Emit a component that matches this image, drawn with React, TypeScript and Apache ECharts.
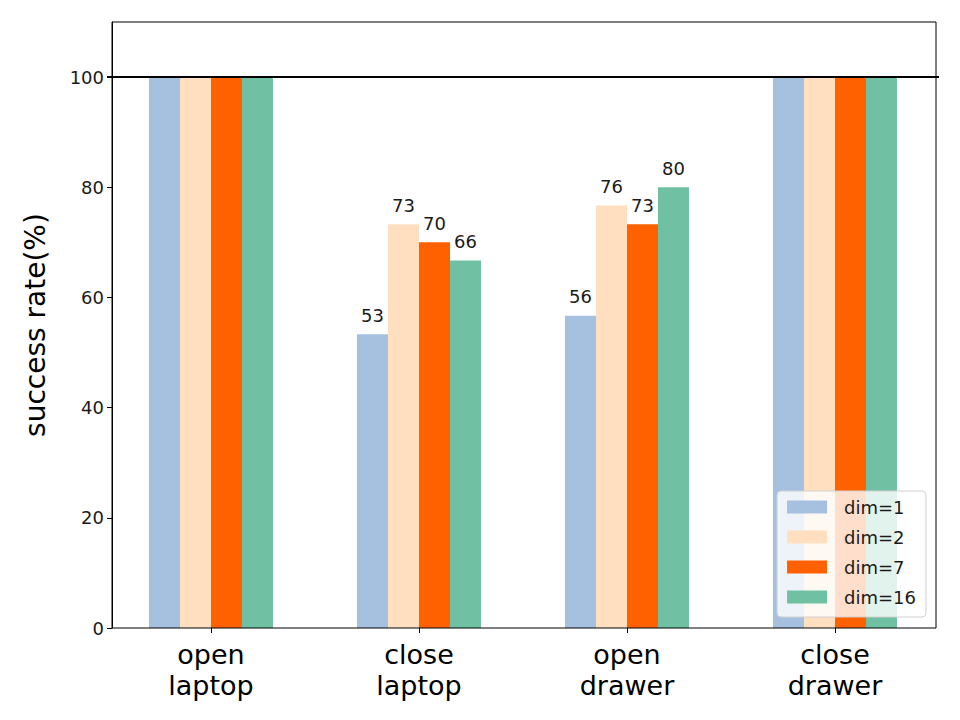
import React, { useEffect, useRef } from "react";
import * as echarts from "echarts";

const categories = ["open\nlaptop", "close\nlaptop", "open\ndrawer", "close\ndrawer"];
const seriesNames = ["dim=1", "dim=2", "dim=7", "dim=16"];
const dim1 = [100, 53.3, 56.7, 100];
const dim2 = [100, 73.3, 76.7, 100];
const dim7 = [100, 70.0, 73.3, 100];
const dim16 = [100, 66.7, 80.0, 100];
const colors = ["#a6c1e0", "#ffdfc0", "#ff6000", "#70c1a3"];
const yTicks = [0, 20, 40, 60, 80, 100];

const FONT = "DejaVu Sans";

export default function App() {
  const ref = useRef<HTMLDivElement>(null);
  useEffect(() => {
    if (!ref.current) return;
    const chart = echarts.init(ref.current, null, { renderer: "svg" });
    const data = [dim1, dim2, dim7, dim16];
    const series: any[] = data.map((d, i) => ({
      name: seriesNames[i],
      type: "bar",
      data: d,
      barWidth: 31,
      barGap: "0%",
      itemStyle: { color: colors[i] },
      label: {
        show: true,
        position: "top",
        distance: 10,
        fontFamily: FONT,
        fontSize: 18,
        color: "#1a1a1a",
        formatter: (p: any) => (p.value >= 100 ? "" : String(Math.floor(p.value))),
      },
      z: 2,
    }));
    series[0].markLine = {
      silent: true,
      symbol: "none",
      label: { show: false },
      lineStyle: { color: "#000", width: 2, type: "solid" },
      data: [{ yAxis: 100 }],
      z: 5,
    };
    chart.setOption({
      animation: false,
      textStyle: { fontFamily: FONT },
      grid: {
        left: 107,
        right: 21,
        top: 22,
        bottom: 92,
        show: false,
      },
      graphic: [
        {
          type: "rect",
          shape: { x: 112, y: 22, width: 824, height: 606 },
          style: { fill: "none", stroke: "#000", lineWidth: 1 },
          z: 100,
          silent: true,
        },
      ],
      legend: {
        orient: "vertical",
        right: 34,
        bottom: 103,
        data: seriesNames,
        icon: "rect",
        itemWidth: 40,
        itemHeight: 13,
        itemGap: 10,
        padding: [6, 10, 10, 10],
        backgroundColor: "rgba(255,255,255,0.8)",
        borderColor: "#d0d0d0",
        borderWidth: 1,
        borderRadius: 4,
        textStyle: {
          fontFamily: FONT,
          fontSize: 18,
          lineHeight: 20,
          color: "#1a1a1a",
          padding: [0, 0, 0, 12],
        },
        z: 10,
      },
      xAxis: {
        type: "category",
        data: categories,
        axisLine: { show: false },
        axisTick: { show: true, alignWithLabel: true, length: 5, lineStyle: { color: "#000" } },
        axisLabel: {
          fontFamily: FONT,
          fontSize: 27,
          lineHeight: 31,
          color: "#000",
          margin: 11,
          interval: 0,
        },
      },
      yAxis: {
        type: "value",
        min: 0,
        max: 110,
        interval: 20,
        offset: -5,
        name: "success rate(%)",
        nameLocation: "middle",
        nameGap: 63,
        nameTextStyle: { fontFamily: FONT, fontSize: 28, color: "#000" },
        splitLine: { show: false },
        axisLine: { show: true, lineStyle: { color: "#000", width: 1 } },
        axisTick: { show: true, length: 5, lineStyle: { color: "#000" }, customValues: yTicks },
        axisLabel: {
          fontFamily: FONT,
          fontSize: 18,
          color: "#1a1a1a",
          margin: 8,
          customValues: yTicks,
        },
      },
      series,
    });
    return () => chart.dispose();
  }, []);
  return (
    <div
      ref={ref}
      style={{ position: "fixed", left: 0, top: 0, width: 960, height: 720, background: "#fff" }}
    />
  );
}
